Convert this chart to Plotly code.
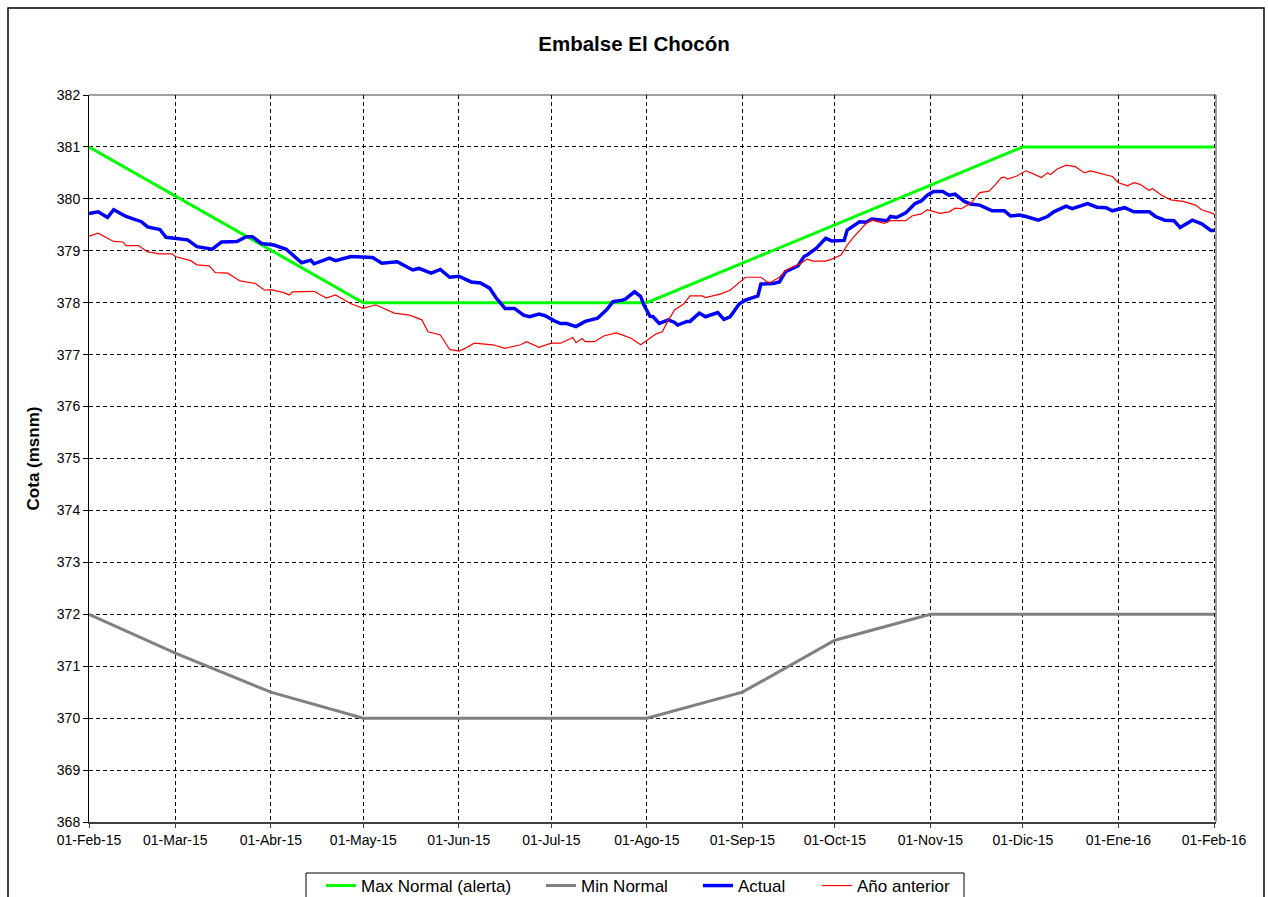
import pandas as pd
import plotly.graph_objects as go

# ---------------- data ----------------
start = pd.Timestamp("2015-02-01")

tick_dates = ["2015-02-01", "2015-03-01", "2015-04-01", "2015-05-01", "2015-06-01",
              "2015-07-01", "2015-08-01", "2015-09-01", "2015-10-01", "2015-11-01",
              "2015-12-01", "2016-01-01", "2016-02-01"]
tick_labels = ["01-Feb-15", "01-Mar-15", "01-Abr-15", "01-May-15", "01-Jun-15",
               "01-Jul-15", "01-Ago-15", "01-Sep-15", "01-Oct-15", "01-Nov-15",
               "01-Dic-15", "01-Ene-16", "01-Feb-16"]

max_dates = ["2015-02-01", "2015-05-01", "2015-08-01", "2015-12-01", "2016-02-01"]
max_normal = [381.0, 378.0, 378.0, 381.0, 381.0]

min_dates = tick_dates
min_normal = [372.0, 371.25, 370.5, 370.0, 370.0, 370.0, 370.0,
              370.5, 371.5, 372.0, 372.0, 372.0, 372.0]

# days since 01-Feb-15
actual_day = [0, 3, 6, 8, 12, 17, 19, 23, 25, 29, 32, 35, 40, 43, 48, 51, 53, 56, 60, 64,
              69, 72, 73, 78, 80, 85, 90, 92, 95, 100, 105, 107, 111, 114, 117, 120, 124,
              127, 130, 132, 135, 138, 141, 143, 146, 148, 151, 153, 155, 158, 161, 165,
              168, 170, 173, 174, 177, 179, 180, 182, 183, 185, 188, 190, 191, 194, 195,
              198, 200, 204, 206, 208, 211, 213, 217, 218, 222, 224, 226, 230, 232, 233,
              236, 239, 241, 245, 246, 250, 252, 254, 259, 260, 262, 265, 268, 270, 272,
              274, 277, 279, 281, 284, 286, 289, 293, 297, 299, 302, 304, 308, 311, 313,
              317, 319, 324, 327, 330, 332, 336, 339, 344, 346, 349, 352, 354, 358, 361,
              364, 365]
actual_level = [379.72, 379.75, 379.64, 379.79, 379.66, 379.56, 379.46, 379.41, 379.26,
                379.24, 379.21, 379.08, 379.03, 379.17, 379.18, 379.27, 379.27, 379.14,
                379.11, 379.03, 378.77, 378.82, 378.75, 378.86, 378.81, 378.89, 378.87,
                378.87, 378.76, 378.79, 378.63, 378.66, 378.57, 378.64, 378.49, 378.51,
                378.40, 378.38, 378.28, 378.10, 377.89, 377.89, 377.76, 377.73, 377.78,
                377.75, 377.65, 377.60, 377.60, 377.54, 377.64, 377.70, 377.87, 378.02,
                378.05, 378.07, 378.21, 378.12, 377.96, 377.74, 377.73, 377.60, 377.67,
                377.62, 377.57, 377.64, 377.64, 377.80, 377.73, 377.81, 377.68, 377.73,
                377.98, 378.05, 378.13, 378.36, 378.37, 378.40, 378.60, 378.71, 378.89,
                378.92, 379.05, 379.24, 379.19, 379.20, 379.40, 379.56, 379.55, 379.61,
                379.58, 379.66, 379.64, 379.73, 379.91, 379.96, 380.07, 380.14, 380.14,
                380.07, 380.09, 379.95, 379.90, 379.88, 379.77, 379.77, 379.67, 379.69,
                379.66, 379.59, 379.66, 379.75, 379.86, 379.81, 379.91, 379.84, 379.83,
                379.77, 379.83, 379.75, 379.75, 379.66, 379.59, 379.58, 379.45, 379.59,
                379.52, 379.39, 379.39]

prev_day = [0, 3, 6, 8, 11, 12, 16, 19, 23, 27, 28, 33, 35, 39, 41, 45, 49, 54, 57, 59,
            63, 65, 66, 73, 77, 80, 85, 89, 93, 97, 99, 104, 108, 110, 114, 117, 120, 122,
            125, 131, 135, 140, 142, 146, 150, 153, 157, 158, 160, 161, 164, 167, 171, 173,
            176, 179, 181, 184, 186, 188, 190, 193, 195, 199, 200, 205, 208, 211, 213, 218,
            220, 221, 224, 226, 231, 233, 235, 239, 241, 244, 246, 248, 250, 252, 254, 258,
            260, 263, 265, 267, 270, 272, 276, 279, 281, 283, 286, 289, 292, 294, 296, 297,
            298, 301, 304, 306, 309, 311, 312, 314, 317, 320, 323, 325, 329, 332, 334, 337,
            339, 341, 344, 345, 348, 351, 355, 357, 359, 361, 364, 365]
prev_level = [379.28, 379.34, 379.24, 379.18, 379.17, 379.10, 379.10, 378.98, 378.94,
              378.94, 378.89, 378.81, 378.73, 378.71, 378.58, 378.57, 378.42, 378.37,
              378.24, 378.25, 378.20, 378.15, 378.21, 378.22, 378.09, 378.15, 377.98,
              377.89, 377.96, 377.86, 377.80, 377.76, 377.67, 377.44, 377.38, 377.10,
              377.07, 377.12, 377.22, 377.19, 377.12, 377.19, 377.25, 377.14, 377.22,
              377.22, 377.33, 377.23, 377.31, 377.25, 377.25, 377.36, 377.42, 377.38,
              377.31, 377.19, 377.28, 377.40, 377.44, 377.67, 377.86, 377.98, 378.13,
              378.13, 378.10, 378.17, 378.24, 378.40, 378.49, 378.49, 378.40, 378.39,
              378.49, 378.62, 378.76, 378.84, 378.80, 378.80, 378.84, 378.92, 379.11,
              379.26, 379.40, 379.52, 379.59, 379.53, 379.58, 379.58, 379.58, 379.67,
              379.71, 379.79, 379.72, 379.75, 379.82, 379.81, 379.91, 380.12, 380.15,
              380.27, 380.41, 380.42, 380.38, 380.44, 380.54, 380.49, 380.41, 380.50,
              380.47, 380.57, 380.65, 380.62, 380.50, 380.54, 380.47, 380.43, 380.31,
              380.25, 380.31, 380.28, 380.16, 380.20, 380.07, 379.98, 379.95, 379.91,
              379.88, 379.79, 379.72, 379.71]

# ---------------- figure ----------------
FONT = "Liberation Sans, Arial, sans-serif"
W, H = 1268, 897
L, R, T, B = 89, 52, 95, 75
pw, ph = W - L - R, H - T - B


def px_x(x):
    return (x - L) / pw


def px_y(y):
    return (H - B - y) / ph


actual_x = [start + pd.Timedelta(days=d) for d in actual_day]
prev_x = [start + pd.Timedelta(days=d) for d in prev_day]

fig = go.Figure()
fig.add_trace(go.Scatter(x=max_dates, y=max_normal, mode="lines", name="Max Normal (alerta)",
                         line=dict(color="#00FF00", width=3), legend="legend"))
fig.add_trace(go.Scatter(x=min_dates, y=min_normal, mode="lines", name="Min Normal",
                         line=dict(color="#808080", width=3), legend="legend2"))
fig.add_trace(go.Scatter(x=actual_x, y=actual_level, mode="lines", name="Actual",
                         line=dict(color="#0000FF", width=3.5), legend="legend3"))
fig.add_trace(go.Scatter(x=prev_x, y=prev_level, mode="lines", name="Año anterior",
                         line=dict(color="#FF0000", width=1.2), legend="legend4"))

leg_common = dict(orientation="h", yref="container", yanchor="middle", y=1 - 886 / H,
                  xanchor="left", bgcolor="rgba(0,0,0,0)", borderwidth=0,
                  font=dict(family=FONT, size=17, color="black"))

fig.update_layout(
    width=W, height=H,
    margin=dict(l=L, r=R, t=T, b=B, autoexpand=False),
    showlegend=True,
    paper_bgcolor="white", plot_bgcolor="white",
    font=dict(family=FONT, color="black"),
    title=dict(text="<b>Embalse El Chocón</b>", x=0.5, xref="container", xanchor="center",
               y=1 - 44 / H, yanchor="middle", yref="container",
               font=dict(family=FONT, size=20.5, color="black")),
    legend=dict(leg_common, x=px_x(321)),
    legend2=dict(leg_common, x=px_x(541)),
    legend3=dict(leg_common, x=px_x(698)),
    legend4=dict(leg_common, x=px_x(817)),
    xaxis=dict(type="date", range=["2015-02-01", "2016-02-01 15:30"], automargin=False,
               tickmode="array", tickvals=tick_dates, ticktext=tick_labels,
               tickfont=dict(family=FONT, size=14, color="black"),
               showgrid=True, gridcolor="black", gridwidth=1, griddash="4px,3px",
               showline=True, linecolor="#404040", linewidth=1.5,
               ticks="outside", ticklen=4, tickcolor="#404040", zeroline=False),
    yaxis=dict(range=[368, 382], dtick=1, tick0=368, automargin=False,
               tickfont=dict(family=FONT, size=14, color="black"),
               title=dict(text="<b>Cota (msnm)</b>", font=dict(family=FONT, size=17, color="black"),
                          standoff=12),
               showgrid=True, gridcolor="black", gridwidth=1, griddash="4px,3px",
               showline=True, linecolor="black", linewidth=1,
               ticks="outside", ticklen=5, tickcolor="black", zeroline=False),
    shapes=[
        # right/top frame of plotting area
        dict(type="line", xref="paper", yref="paper", x0=1, x1=1, y0=0, y1=1,
             line=dict(color="#808080", width=1.5), layer="below"),
        dict(type="line", xref="paper", yref="paper", x0=0, x1=1, y0=1, y1=1,
             line=dict(color="#808080", width=1.5), layer="below"),
        # legend box
        dict(type="rect", xref="paper", yref="paper",
             x0=px_x(306), x1=px_x(964), y0=px_y(905), y1=px_y(873),
             line=dict(color="black", width=1), fillcolor="rgba(0,0,0,0)", layer="above"),
        # outer chart frame
        dict(type="rect", xref="paper", yref="paper",
             x0=px_x(8), x1=px_x(1264), y0=px_y(930), y1=px_y(8),
             line=dict(color="black", width=1.5), fillcolor="rgba(0,0,0,0)", layer="above"),
    ],
)

fig.write_html("out.html", config={"displayModeBar": False},
               post_script="document.body.style.margin='0';")
